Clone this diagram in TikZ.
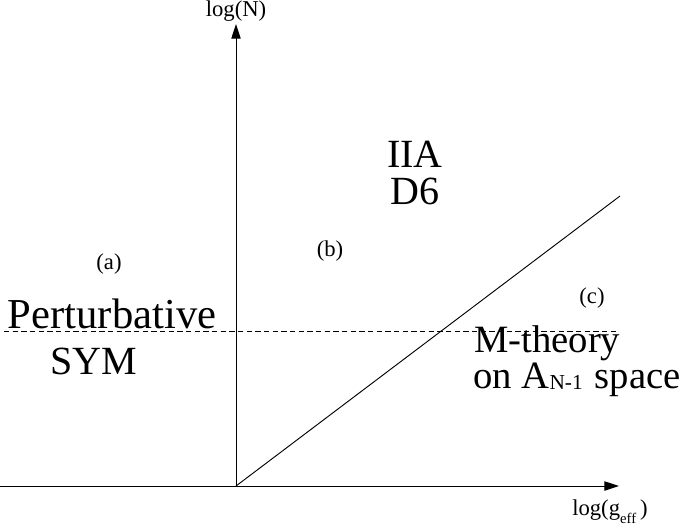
\documentclass[tikz,border=0pt]{standalone}
\usepackage{fontspec}
\setmainfont{Liberation Serif}
\usetikzlibrary{arrows.meta}

\begin{document}
\begin{tikzpicture}[
  x=0.75pt, y=-0.75pt,
  axis/.style={line width=0.7pt, -{Triangle[length=11pt,width=7pt]}},
  thinline/.style={line width=0.7pt},
  small/.style={font=\fontsize{17}{19}\selectfont, inner sep=0pt},
  big/.style={font=\fontsize{30}{34}\selectfont, inner sep=0pt, anchor=base},
  bigr/.style={font=\fontsize{29}{32}\selectfont, inner sep=0pt, anchor=base west},
]
\useasboundingbox (0,0) rectangle (681,529);

%% ---- axes ----
\coordinate (o)    at (236,486);
\coordinate (xend) at (619,486);
\coordinate (yend) at (236,24);
\coordinate (xbeg) at (0,486);
\draw[axis] (xbeg) -- (xend);
\draw[axis] (o) -- (yend);

\node[small, anchor=south] (ylab) at (236,22) {log(N)};
\node[small, anchor=base west] (xlab) at (572,515)
  {log(g\raisebox{-6pt}{\fontsize{11}{12}\selectfont eff}\hspace{3pt})};

%% ---- boundaries ----
\coordinate (diag) at (620,196);
\draw[thinline] (o) -- (diag);
\coordinate (dl) at (4,331);
\coordinate (dr) at (617,331);
\draw[thinline, dash pattern=on 4pt off 2.5pt] (dl) -- (dr);

%% ---- region labels ----
\node[small] (ra) at (109,264) {(a)};
\node[small] (rb) at (330,251) {(b)};
\node[small] (rc) at (592,298) {(c)};

\node[big, font=\fontsize{32}{36}\selectfont] (pert) at (112,328) {Perturbative};
\node[big] (sym)  at (94,374)  {SYM};
\node[big] (iia)  at (415,167) {IIA};
\node[big] (d6)   at (415,204) {D6};
\node[bigr] (mth) at (474,352) {M-theory};
\node[bigr] (ona) at (473,388)
  {on A\raisebox{-1pt}{\fontsize{16}{18}\selectfont N-1}\hspace{9pt}space};

\end{tikzpicture}
\end{document}
